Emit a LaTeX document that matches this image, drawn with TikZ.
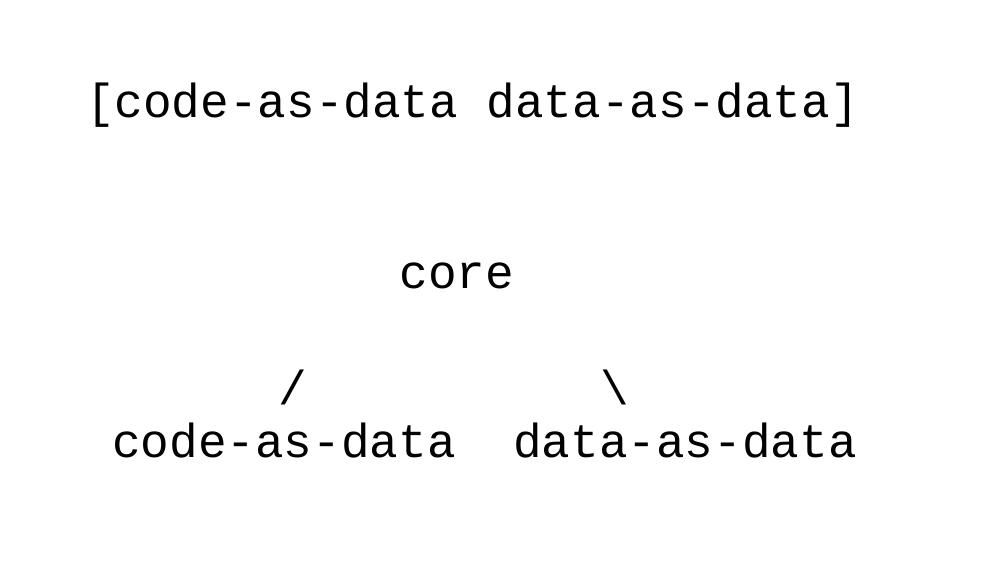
\documentclass[tikz,border=0pt]{standalone}
\usepackage{fontspec}
\setmonofont{Liberation Mono}
\begin{document}
\begin{tikzpicture}[x=1pt,y=-1pt,
  txt/.style={font=\ttfamily\fontsize{47.7}{56}\selectfont, inner sep=0pt, anchor=base, text=black}]
\useasboundingbox[fill=white] (0,0) rectangle (982,582);
\node[txt] (top) at (472.5,117) {[code-as-data data-as-data]};
\node[txt] (core) at (457,288) {core};
\node[txt] (sl) at (293,404) {/};
\node[txt] (bs) at (615,404) {\textbackslash};
\node[txt] (left) at (284,457) {code-as-data};
\node[txt] (right) at (685,457) {data-as-data};
\end{tikzpicture}
\end{document}
